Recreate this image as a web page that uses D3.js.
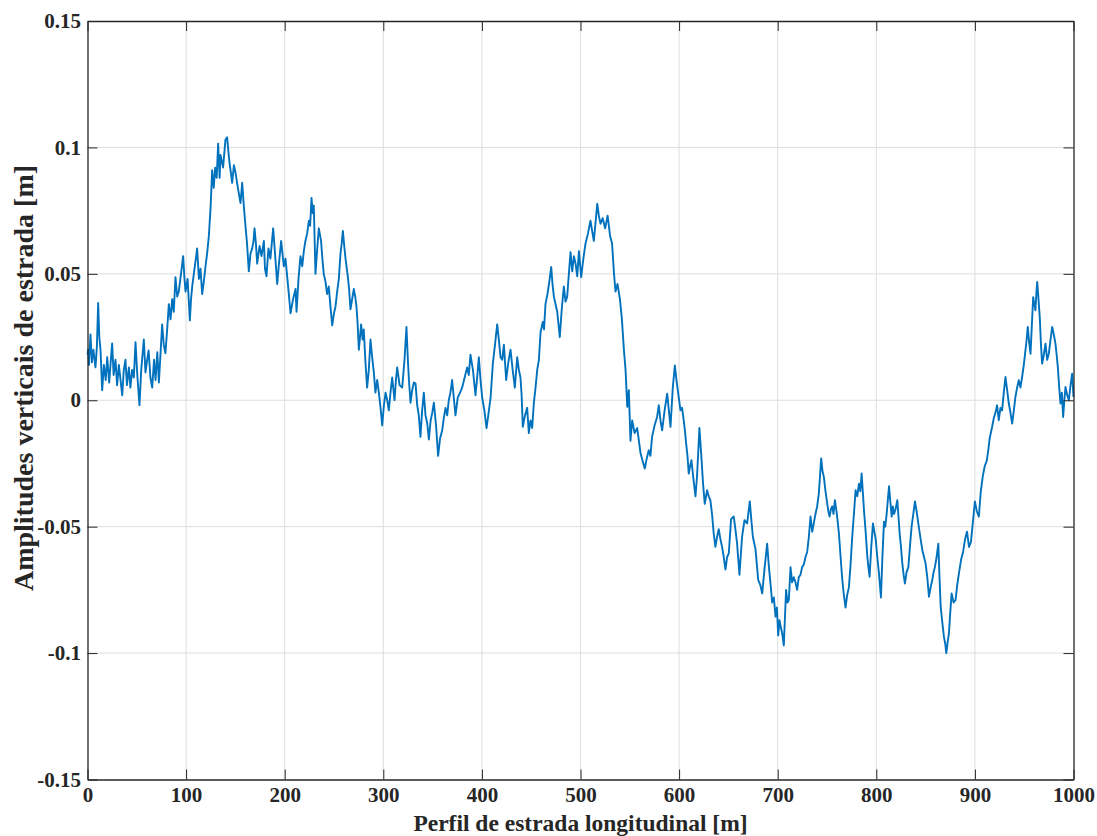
<!DOCTYPE html>
<html>
<head>
<meta charset="utf-8">
<script src="https://cdn.jsdelivr.net/npm/d3@7"></script>
<style>
  html, body { margin: 0; padding: 0; background: #fff; }
  svg { display: block; }
</style>
</head>
<body>
<svg id="chart" width="1097" height="836"></svg>
<script>
// Longitudinal road profile: distance along the road [m] and vertical amplitude [m]
const distance = [
  0.0,0.7,1.5,3.0,4.5,6.0,8.1,9.5,10.8,12.0,13.2,14.9,16.6,18.5,20.0,22.0,23.5,25.0,26.5,28.4,
  30.0,31.8,33.5,35.2,36.8,38.5,40.0,42.0,43.5,45.3,47.0,48.7,50.5,52.7,54.5,57.1,58.8,60.5,62.0,63.8,
  65.6,67.5,69.0,70.8,72.4,74.0,75.7,77.3,79.0,80.8,82.5,84.2,85.9,87.5,89.2,91.0,92.6,94.8,97.0,98.2,
  99.4,101.5,103.8,105.0,106.2,108.5,111.2,113.0,114.6,116.3,118.0,119.7,121.3,123.0,124.8,126.4,128.0,129.5,131.0,132.5,
  134.0,134.9,137.5,139.9,141.6,143.0,144.0,145.4,146.7,148.5,150.1,152.5,155.2,156.9,158.5,160.2,161.8,163.6,165.3,167.0,
  168.4,169.4,170.8,172.1,174.5,176.5,178.9,180.0,181.5,183.5,185.5,188.3,190.2,192.4,194.4,196.4,199.1,200.8,202.5,204.2,
  205.9,208.5,211.0,212.0,214.0,216.0,217.8,219.4,221.0,222.8,224.5,225.8,227.2,228.4,229.5,231.2,233.0,234.6,236.9,238.2,
  239.6,241.3,243.0,244.7,246.4,248.2,249.8,251.5,253.2,254.9,256.6,257.8,259.0,260.4,261.7,263.0,264.0,265.3,266.7,268.4,
  270.1,271.5,272.8,274.0,275.2,276.4,277.5,279.0,280.2,281.9,283.6,285.3,287.0,288.7,290.4,292.0,293.8,295.5,297.2,298.9,
  300.6,302.3,304.0,305.6,307.3,309.0,311.4,312.8,314.1,316.5,319.2,321.5,323.5,324.8,326.0,327.6,329.3,331.0,332.7,334.4,
  336.0,337.7,339.4,341.1,342.8,344.5,346.2,348.0,349.6,351.3,353.5,355.6,357.6,359.7,361.4,363.1,364.8,366.4,368.1,369.8,
  371.5,373.2,375.5,377.8,380.0,382.5,385.0,386.7,388.4,390.9,393.5,395.2,396.9,398.6,400.3,402.5,404.7,406.8,408.8,411.1,
  413.3,415.5,417.2,418.9,420.6,422.3,424.6,426.8,429.0,431.2,433.4,435.8,437.5,439.1,440.3,441.5,443.7,445.9,447.6,449.3,
  451.0,452.7,454.4,456.1,457.8,459.5,461.8,463.0,464.5,466.5,468.4,470.3,471.6,473.0,474.7,476.4,477.7,479.0,481.0,483.1,
  484.8,486.5,488.2,489.9,491.6,493.3,495.0,496.7,498.4,500.7,502.9,505.1,507.6,510.1,511.8,513.5,515.2,517.0,518.6,520.3,
  522.5,525.0,527.5,530.0,532.0,534.0,535.5,537.5,540.0,542.0,544.0,545.7,547.4,549.0,550.7,552.4,554.9,557.5,559.2,560.9,
  563.0,565.2,567.2,569.2,570.9,572.6,575.1,577.7,579.4,581.1,582.8,585.3,587.9,589.6,591.3,593.6,595.7,597.3,599.0,601.4,
  603.0,604.7,605.9,607.1,608.5,609.8,611.2,612.5,614.5,616.6,618.2,620.6,622.6,624.3,626.0,628.4,630.0,631.7,633.4,635.1,
  636.8,638.5,640.2,641.9,643.6,645.3,647.0,648.7,650.4,652.7,655.4,657.1,658.8,661.2,663.9,666.3,669.0,671.7,673.2,674.8,
  677.5,680.2,682.3,684.3,686.8,689.3,691.1,692.8,694.4,696.1,697.8,699.2,700.5,701.8,703.2,704.5,706.2,708.5,710.0,711.3,
  713.0,714.6,716.3,718.0,719.7,721.4,723.1,724.8,726.5,728.2,729.9,731.6,733.3,735.0,736.6,738.3,740.0,741.7,742.9,744.1,
  745.4,746.8,748.5,750.2,751.4,752.6,754.0,755.3,756.6,758.0,760.0,762.1,763.8,765.5,767.1,768.8,770.5,772.2,773.9,775.6,
  777.3,779.0,780.7,782.4,783.8,785.1,786.3,787.5,789.2,790.9,792.0,793.2,794.9,796.6,798.0,799.4,801.0,802.7,804.7,806.2,
  807.8,809.1,810.5,812.9,814.2,815.6,816.8,818.0,819.6,821.3,822.5,823.7,825.0,826.4,827.7,829.0,830.7,832.5,834.1,835.8,
  837.5,839.2,840.9,842.6,844.6,846.7,848.4,850.0,851.7,853.4,855.1,856.8,858.1,859.5,861.2,862.9,864.1,865.3,867.0,868.6,
  869.8,871.0,872.3,873.7,875.0,876.4,878.4,880.4,882.1,883.8,886.0,888.0,890.0,892.0,894.0,896.0,898.0,900.0,902.0,904.0,
  906.0,908.0,910.0,912.0,913.5,915.0,917.5,919.2,920.8,922.5,924.2,925.9,927.6,929.3,931.0,932.7,934.4,936.1,937.8,939.5,
  941.1,942.8,944.5,946.2,947.9,949.6,951.3,952.5,953.6,955.0,956.4,957.8,959.1,960.3,961.4,962.3,963.2,964.5,965.9,967.0,
  968.2,969.9,971.6,973.3,975.0,976.7,978.4,980.0,981.7,982.9,984.1,985.5,986.8,988.2,989.5,990.7,991.9,993.6,995.3,997.0,
  998.6,1000.0
];

const amplitude = [
  0.0180,0.0200,0.0140,0.0260,0.0150,0.0200,0.0130,0.0210,0.0385,0.0250,0.0200,0.0040,0.0140,0.0080,0.0170,0.0070,0.0150,0.0225,0.0100,0.0160,
  0.0060,0.0140,0.0080,0.0020,0.0120,0.0160,0.0060,0.0130,0.0050,0.0120,0.0090,0.0230,0.0100,-0.0020,0.0120,0.0240,0.0110,0.0160,0.0197,0.0090,
  0.0050,0.0160,0.0080,0.0190,0.0070,0.0180,0.0300,0.0220,0.0186,0.0280,0.0380,0.0320,0.0400,0.0350,0.0487,0.0410,0.0430,0.0500,0.0570,0.0490,
  0.0430,0.0480,0.0316,0.0400,0.0450,0.0520,0.0600,0.0480,0.0520,0.0420,0.0470,0.0530,0.0580,0.0646,0.0760,0.0910,0.0840,0.0920,0.0880,0.1015,
  0.0880,0.0970,0.0920,0.1030,0.1040,0.0980,0.0940,0.0900,0.0860,0.0930,0.0900,0.0840,0.0780,0.0860,0.0770,0.0690,0.0620,0.0510,0.0580,0.0600,
  0.0630,0.0680,0.0620,0.0540,0.0610,0.0570,0.0630,0.0520,0.0490,0.0600,0.0560,0.0680,0.0580,0.0460,0.0550,0.0630,0.0530,0.0560,0.0490,0.0420,
  0.0344,0.0400,0.0440,0.0350,0.0480,0.0570,0.0530,0.0590,0.0630,0.0660,0.0710,0.0690,0.0800,0.0740,0.0770,0.0500,0.0600,0.0680,0.0630,0.0560,
  0.0500,0.0470,0.0420,0.0450,0.0370,0.0296,0.0340,0.0370,0.0430,0.0480,0.0580,0.0620,0.0670,0.0610,0.0560,0.0520,0.0490,0.0440,0.0360,0.0400,
  0.0440,0.0410,0.0370,0.0300,0.0200,0.0250,0.0300,0.0240,0.0280,0.0150,0.0050,0.0120,0.0240,0.0170,0.0110,0.0030,0.0080,0.0030,-0.0030,-0.0100,
  -0.0020,0.0030,0.0000,-0.0040,0.0030,0.0090,0.0000,0.0080,0.0130,0.0060,0.0050,0.0160,0.0290,0.0170,0.0080,-0.0010,0.0040,0.0070,0.0066,-0.0020,
  -0.0060,-0.0145,-0.0040,0.0030,-0.0060,-0.0090,-0.0155,-0.0080,-0.0050,-0.0010,-0.0100,-0.0220,-0.0150,-0.0120,-0.0070,-0.0030,-0.0060,0.0000,0.0030,0.0080,
  0.0010,-0.0060,0.0010,0.0030,0.0050,0.0090,0.0130,0.0100,0.0180,0.0120,0.0020,0.0090,0.0170,0.0080,0.0010,-0.0040,-0.0110,-0.0050,0.0010,0.0145,
  0.0220,0.0300,0.0240,0.0170,0.0160,0.0220,0.0080,0.0150,0.0200,0.0120,0.0050,0.0170,0.0120,0.0090,0.0020,-0.0105,-0.0060,-0.0030,-0.0130,-0.0080,
  -0.0110,-0.0010,0.0050,0.0120,0.0160,0.0270,0.0310,0.0280,0.0380,0.0420,0.0470,0.0527,0.0460,0.0410,0.0380,0.0350,0.0300,0.0250,0.0360,0.0450,
  0.0390,0.0410,0.0500,0.0586,0.0510,0.0570,0.0540,0.0490,0.0590,0.0487,0.0560,0.0620,0.0660,0.0710,0.0670,0.0630,0.0700,0.0777,0.0730,0.0698,
  0.0720,0.0680,0.0730,0.0650,0.0620,0.0500,0.0430,0.0460,0.0400,0.0320,0.0200,0.0120,-0.0026,0.0040,-0.0160,-0.0080,-0.0130,-0.0110,-0.0160,-0.0210,
  -0.0240,-0.0270,-0.0230,-0.0198,-0.0220,-0.0145,-0.0100,-0.0066,-0.0020,-0.0080,-0.0119,-0.0040,0.0026,-0.0040,-0.0105,0.0050,0.0138,0.0080,0.0030,-0.0040,
  -0.0030,-0.0080,-0.0120,-0.0170,-0.0220,-0.0290,-0.0260,-0.0237,-0.0310,-0.0380,-0.0300,-0.0110,-0.0224,-0.0330,-0.0410,-0.0356,-0.0380,-0.0395,-0.0450,-0.0527,
  -0.0580,-0.0540,-0.0510,-0.0550,-0.0580,-0.0620,-0.0670,-0.0620,-0.0606,-0.0470,-0.0460,-0.0510,-0.0566,-0.0690,-0.0539,-0.0474,-0.0487,-0.0400,-0.0470,-0.0540,
  -0.0590,-0.0710,-0.0730,-0.0764,-0.0660,-0.0567,-0.0660,-0.0730,-0.0800,-0.0780,-0.0856,-0.0820,-0.0930,-0.0870,-0.0900,-0.0920,-0.0970,-0.0750,-0.0800,-0.0790,
  -0.0660,-0.0720,-0.0700,-0.0720,-0.0750,-0.0700,-0.0690,-0.0660,-0.0650,-0.0620,-0.0600,-0.0540,-0.0460,-0.0520,-0.0487,-0.0450,-0.0420,-0.0370,-0.0300,-0.0230,
  -0.0280,-0.0303,-0.0360,-0.0408,-0.0440,-0.0460,-0.0430,-0.0420,-0.0450,-0.0395,-0.0450,-0.0527,-0.0620,-0.0710,-0.0770,-0.0820,-0.0770,-0.0740,-0.0650,-0.0540,
  -0.0450,-0.0356,-0.0380,-0.0330,-0.0360,-0.0290,-0.0360,-0.0435,-0.0520,-0.0620,-0.0660,-0.0698,-0.0580,-0.0487,-0.0520,-0.0550,-0.0620,-0.0685,-0.0780,-0.0620,
  -0.0480,-0.0500,-0.0450,-0.0340,-0.0400,-0.0460,-0.0420,-0.0450,-0.0430,-0.0395,-0.0460,-0.0527,-0.0580,-0.0646,-0.0690,-0.0725,-0.0680,-0.0660,-0.0580,-0.0500,
  -0.0450,-0.0400,-0.0440,-0.0487,-0.0540,-0.0593,-0.0620,-0.0646,-0.0700,-0.0777,-0.0740,-0.0710,-0.0680,-0.0659,-0.0620,-0.0567,-0.0700,-0.0817,-0.0880,-0.0936,
  -0.0960,-0.1000,-0.0960,-0.0920,-0.0840,-0.0764,-0.0800,-0.0790,-0.0730,-0.0685,-0.0630,-0.0600,-0.0550,-0.0520,-0.0580,-0.0560,-0.0480,-0.0400,-0.0440,-0.0460,
  -0.0360,-0.0300,-0.0260,-0.0240,-0.0200,-0.0150,-0.0105,-0.0070,-0.0050,-0.0020,-0.0079,-0.0030,-0.0040,0.0030,0.0092,0.0040,-0.0013,-0.0050,-0.0092,-0.0040,
  0.0013,0.0050,0.0079,0.0050,0.0092,0.0140,0.0198,0.0240,0.0290,0.0230,0.0184,0.0300,0.0408,0.0380,0.0356,0.0420,0.0468,0.0400,0.0320,0.0220,
  0.0145,0.0180,0.0224,0.0160,0.0184,0.0240,0.0290,0.0260,0.0224,0.0180,0.0132,0.0050,-0.0013,0.0030,-0.0066,0.0000,0.0053,0.0020,0.0000,0.0060,
  0.0105,0.0013
];

// Axis ticks
const xTicks = [0, 100, 200, 300, 400, 500, 600, 700, 800, 900, 1000];
const yTicks = [-0.15, -0.1, -0.05, 0, 0.05, 0.1, 0.15];
const yTickLabels = ["-0.15", "-0.1", "-0.05", "0", "0.05", "0.1", "0.15"];

const xLabel = "Perfil de estrada longitudinal [m]";
const yLabel = "Amplitudes verticais de estrada [m]";

const W = 1097, H = 836;
const margin = { left: 87.5, right: W - 1073.5, top: 21, bottom: H - 779.5 };
const svg = d3.select("#chart");

const x = d3.scaleLinear().domain([0, 1000]).range([margin.left, W - margin.right]);
const y = d3.scaleLinear().domain([-0.15, 0.15]).range([H - margin.bottom, margin.top]);

const font = '"Liberation Serif", "Times New Roman", serif';
const axisColor = "#262626";
const tickLen = 10;

// Grid lines
const grid = svg.append("g");
grid.selectAll("line.gx").data(xTicks.slice(1, -1)).join("line")
  .attr("x1", d => x(d)).attr("x2", d => x(d))
  .attr("y1", y(-0.15)).attr("y2", y(0.15))
  .attr("stroke", "#dedede").attr("stroke-width", 1);
grid.selectAll("line.gy").data(yTicks.slice(1, -1)).join("line")
  .attr("x1", x(0)).attr("x2", x(1000))
  .attr("y1", d => y(d)).attr("y2", d => y(d))
  .attr("stroke", "#dedede").attr("stroke-width", 1);

// Road profile line
const line = d3.line()
  .x((d, i) => x(distance[i]))
  .y(d => y(d));

svg.append("path")
  .datum(amplitude)
  .attr("fill", "none")
  .attr("stroke", "#0072BD")
  .attr("stroke-width", 1.9)
  .attr("stroke-linejoin", "round")
  .attr("d", line);

// Axes (ticks point inward, box on all four sides)
const xAxisB = d3.axisBottom(x).tickValues(xTicks).tickSizeInner(-tickLen).tickSizeOuter(0).tickPadding(8)
  .tickFormat(d3.format("d"));
const xAxisT = d3.axisTop(x).tickValues(xTicks).tickSizeInner(-tickLen).tickSizeOuter(0).tickFormat("");
const yAxisL = d3.axisLeft(y).tickValues(yTicks).tickSizeInner(-tickLen).tickSizeOuter(0).tickPadding(6.5)
  .tickFormat((d, i) => yTickLabels[i]);
const yAxisR = d3.axisRight(y).tickValues(yTicks).tickSizeInner(-tickLen).tickSizeOuter(0).tickFormat("");

function styleAxis(g) {
  g.selectAll("path.domain").attr("stroke", axisColor).attr("stroke-width", 1.3);
  g.selectAll(".tick line").attr("stroke", axisColor).attr("stroke-width", 1);
  g.selectAll(".tick text").attr("fill", axisColor)
    .style("font-family", font).style("font-weight", "bold").style("font-size", "21px");
}

svg.append("g").attr("transform", `translate(0,${y(-0.15)})`).call(xAxisB).call(styleAxis);
svg.append("g").attr("transform", `translate(0,${y(0.15)})`).call(xAxisT).call(styleAxis);
svg.append("g").attr("transform", `translate(${x(0)},0)`).call(yAxisL).call(styleAxis);
svg.append("g").attr("transform", `translate(${x(1000)},0)`).call(yAxisR).call(styleAxis);

// Axis titles
svg.append("text")
  .attr("x", (x(0) + x(1000)) / 2).attr("y", 831)
  .attr("text-anchor", "middle")
  .style("font-family", font).style("font-weight", "bold").style("font-size", "23.5px")
  .attr("fill", axisColor)
  .text(xLabel);

svg.append("text")
  .attr("transform", "translate(33,378) rotate(-90)")
  .attr("text-anchor", "middle")
  .style("font-family", font).style("font-weight", "bold").style("font-size", "28px")
  .attr("fill", axisColor)
  .text(yLabel);
</script>
</body>
</html>
